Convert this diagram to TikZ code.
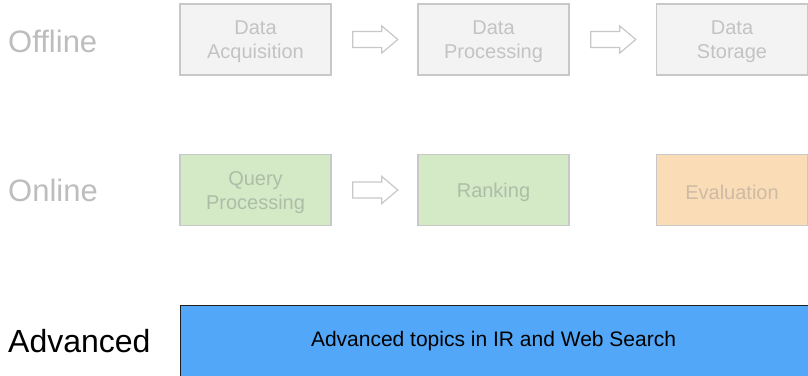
\documentclass[tikz,border=0pt]{standalone}
\usepackage{fontspec}
\setmainfont{Liberation Sans}
\usetikzlibrary{calc}

\definecolor{rowlabel}{HTML}{BDBDBD}
\definecolor{greyfill}{HTML}{F3F3F3}
\definecolor{greyline}{HTML}{C8C8C8}
\definecolor{greytext}{HTML}{C3C3C3}
\definecolor{greenfill}{HTML}{D4EAC7}
\definecolor{greentext}{HTML}{AEBDA6}
\definecolor{orangefill}{HTML}{FADCB6}
\definecolor{orangetext}{HTML}{CDBBA5}
\definecolor{bluefill}{HTML}{52A7F8}
\definecolor{blueline}{HTML}{1E1E1E}

\tikzset{
  x=1pt, y=1pt,
  rowname/.style={anchor=west, inner sep=0pt, font=\fontsize{31}{36}\selectfont},
  stagebox/.style={draw=greyline, line width=1.6pt, minimum width=151pt,
    minimum height=71pt, inner sep=0pt},
  stagetext/.style={inner sep=0pt, align=center, font=\fontsize{20}{24}\selectfont},
  offbox/.style={stagebox, fill=greyfill},
  onbox/.style={stagebox, fill=greenfill},
  evalbox/.style={stagebox, fill=orangefill},
  advbox/.style={draw=blueline, line width=1.6pt, fill=bluefill,
    minimum width=640pt, minimum height=74pt, inner sep=0pt},
  flowarrow/.style={draw=greyline, line width=1.2pt, fill=white, line join=miter}
}

% a stage box #1 with style #2 at #3, and its caption #5 in colour #4
\newcommand{\stage}[5]{%
  \node[#2] (#1) at #3 {};
  \node[stagetext, text=#4, yshift=-2.5pt] (#1text) at (#1.center) {#5};}

% hollow block arrow placed in the gap after box #1
\newcommand{\blockarrow}[1]{%
  \draw[flowarrow] ($(#1.east)+(21,8)$) -- ++(29,0) -- ++(0,5.5)
    -- ++(16,-13.5) -- ++(-16,-13.5) -- ++(0,5.5) -- ++(-29,0) -- cycle;}

\begin{document}
\begin{tikzpicture}
\useasboundingbox (0,0) rectangle (808,-375);
\clip (0,0) rectangle (808,-375);

% row labels
\node[rowname, text=rowlabel] (offline) at (8,-41) {Offline};
\node[rowname, text=rowlabel] (online) at (8,-190) {Online};
\node[rowname, text=black, font=\fontsize{32}{36}\selectfont] (advanced) at (8,-341) {Advanced};

% offline pipeline
\stage{acq}{offbox}{(255.5,-39.5)}{greytext}{Data\\Acquisition}
\stage{proc}{offbox}{(493.5,-39.5)}{greytext}{Data\\Processing}
\stage{store}{offbox}{(732,-39.5)}{greytext}{Data\\Storage}
\blockarrow{acq}
\blockarrow{proc}

% online pipeline
\stage{query}{onbox}{(255.5,-190)}{greentext}{Query\\Processing}
\stage{rank}{onbox}{(493.5,-190)}{greentext}{Ranking}
\stage{eval}{evalbox}{(732,-190)}{orangetext}{Evaluation}
\blockarrow{query}

% advanced topics
\node[advbox, anchor=north west] (topics) at (179.5,-304.5) {};
\node[font=\fontsize{21}{25}\selectfont, inner sep=0pt] (topicstext) at (493.5,-341)
  {Advanced topics in IR and Web Search};
\end{tikzpicture}
\end{document}
